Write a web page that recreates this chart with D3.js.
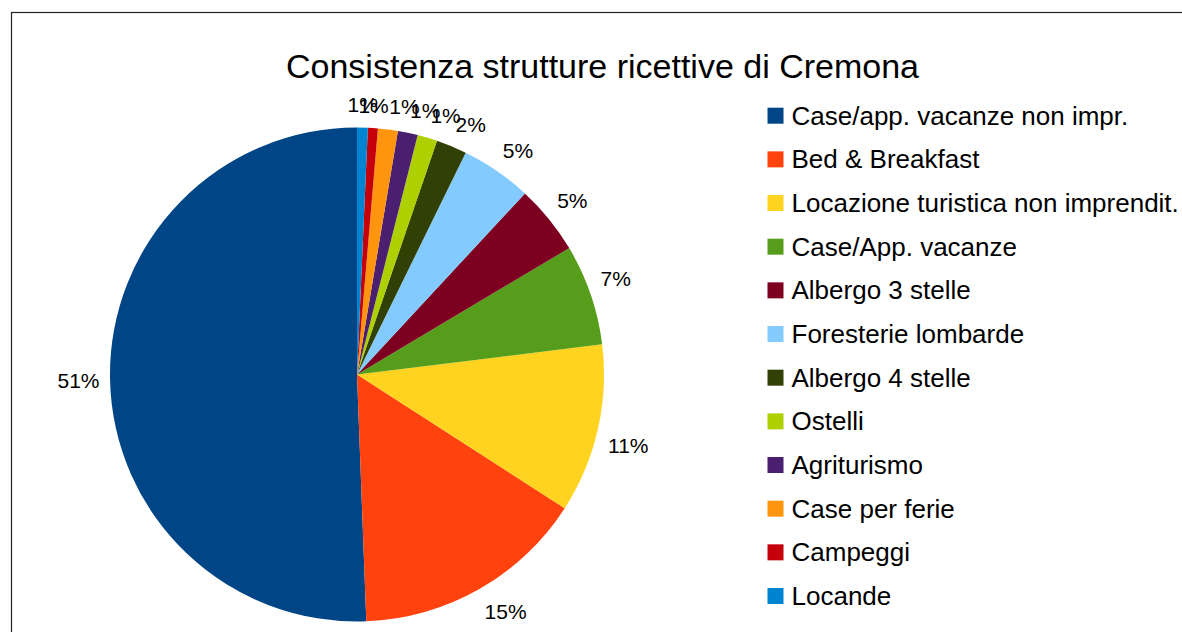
<!DOCTYPE html>
<html>
<head>
<meta charset="utf-8">
<script src="https://cdn.jsdelivr.net/npm/d3@7"></script>
<style>
  body { margin: 0; background: #fff; }
  svg { display: block; font-family: "Liberation Sans", Arial, sans-serif; }
</style>
</head>
<body>
<svg id="chart" width="1182" height="632"></svg>
<script>
// categories and values (share of structures)
const categories = [
    "Case/app. vacanze non impr.",
    "Bed & Breakfast",
    "Locazione turistica non imprendit.",
    "Case/App. vacanze",
    "Albergo 3 stelle",
    "Foresterie lombarde",
    "Albergo 4 stelle",
    "Ostelli",
    "Agriturismo",
    "Case per ferie",
    "Campeggi",
    "Locande"
];
const values = [50.6, 15.3, 11.05, 6.6, 4.55, 4.65, 2.0, 1.3, 1.3, 1.3, 0.65, 0.7];
const colors = ["#004586", "#ff420e", "#ffd320", "#579d1c", "#7e0021", "#83caff",
                "#314004", "#aecf00", "#4b1f6f", "#ff950e", "#c5000b", "#0084d1"];

const svg = d3.select("#chart");
const cx = 357, cy = 374.5, radius = 247;

// cornice
svg.append("rect")
    .attr("x", 11.5).attr("y", 12.5)
    .attr("width", 1300).attr("height", 800)
    .attr("fill", "none")
    .attr("stroke", "#222")
    .attr("stroke-width", 1.2);

// titolo
svg.append("text")
    .attr("x", 602.5).attr("y", 78)
    .attr("text-anchor", "middle")
    .attr("font-size", "34px")
    .attr("fill", "#000")
    .text("Consistenza strutture ricettive di Cremona");

const total = d3.sum(values);
const data = categories.map((c, i) => ({ name: c, value: values[i], color: colors[i] }));

// LibreOffice draws counterclockwise from 12 o'clock
const pie = d3.pie().sort(null).value(d => d.value)
    .startAngle(0).endAngle(-2 * Math.PI);
const arcs = pie(data);
const arc = d3.arc().innerRadius(0).outerRadius(radius);

const g = svg.append("g").attr("transform", `translate(${cx},${cy})`);

g.selectAll("path")
    .data(arcs)
    .enter().append("path")
    .attr("d", arc)
    .attr("fill", d => d.data.color);

// etichette percentuali
const labelR = radius + 10.5;
const fmt = d => Math.round(d.data.value / total * 100) + "%";

g.selectAll("text.lbl")
    .data(arcs)
    .enter().append("text")
    .attr("class", "lbl")
    .attr("font-size", "21px")
    .attr("fill", "#000")
    .each(function(d) {
        const a = (d.startAngle + d.endAngle) / 2;
        const ux = Math.sin(a), uy = -Math.cos(a);
        const sx = Math.abs(ux) < 0.1 ? 0 : Math.sign(ux);
        const sy = Math.abs(uy) < 0.1 ? 0 : Math.sign(uy);
        const x = ux * labelR, y = uy * labelR;
        const base = sy > 0 ? 21 : (sy < 0 ? -4.7 : 8.2);
        d3.select(this)
            .attr("x", x)
            .attr("y", y + base)
            .attr("text-anchor", sx > 0 ? "start" : (sx < 0 ? "end" : "middle"))
            .text(fmt(d));
    });

// legenda
const legend = svg.append("g").attr("class", "legend");
const rowY = d3.scalePoint().domain(categories).range([115.7, 596]);

const item = legend.selectAll("g")
    .data(data)
    .enter().append("g")
    .attr("transform", d => `translate(767.5,${rowY(d.name)})`);

item.append("rect")
    .attr("x", 0).attr("y", -8)
    .attr("width", 16).attr("height", 16)
    .attr("fill", d => d.color);

item.append("text")
    .attr("x", 24).attr("y", 9)
    .attr("font-size", "26px")
    .attr("fill", "#000")
    .text(d => d.name);
</script>
</body>
</html>
